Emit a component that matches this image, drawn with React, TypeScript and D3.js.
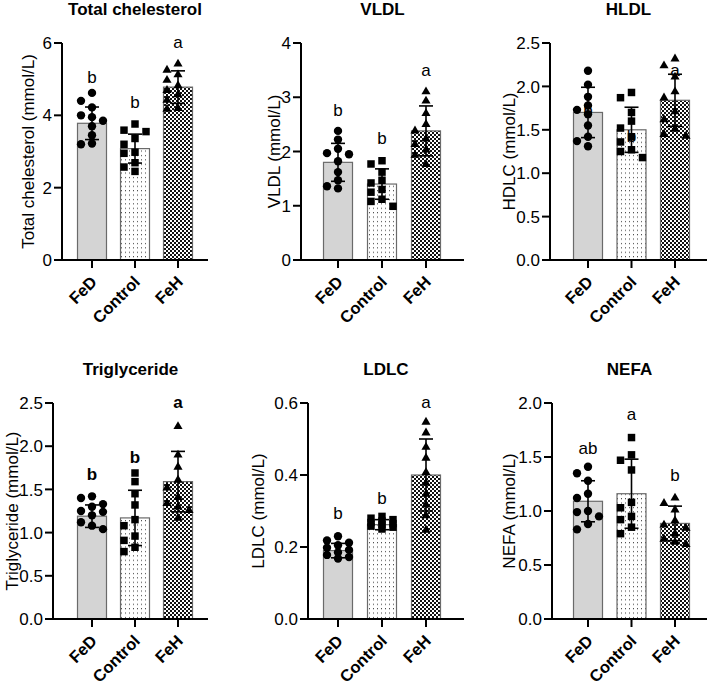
import React from "react";
import * as d3 from "d3";

const groups = ["FeD", "Control", "FeH"];

// points, one list per group
const tcPoints = [
  [4.62, 4.4, 4.22, 4.0, 3.95, 3.85, 3.7, 3.45, 3.22, 3.2],
  [3.76, 3.59, 3.55, 3.36, 3.2, 2.98, 2.95, 2.69, 2.57, 2.45],
  [5.45, 5.28, 5.15, 5.0, 4.85, 4.72, 4.6, 4.45, 4.22, 4.2],
];
const tcMean = [3.78, 3.08, 4.78];
const tcSD = [0.45, 0.4, 0.45];
const tcLetters = ["b", "b", "a"];
const tcLetterAt = [5.07, 4.38, 6.02];

const vldlPoints = [
  [2.38, 2.22, 2.05, 1.97, 1.95, 1.82, 1.62, 1.47, 1.36, 1.32],
  [1.83, 1.77, 1.62, 1.47, 1.42, 1.3, 1.25, 1.12, 1.08, 0.99],
  [3.12, 2.95, 2.72, 2.52, 2.4, 2.25, 2.15, 2.05, 1.95, 1.78],
];
const vldlMean = [1.8, 1.4, 2.38];
const vldlSD = [0.35, 0.28, 0.46];
const vldlLetters = ["b", "b", "a"];
const vldlLetterAt = [2.77, 2.25, 3.51];

const hdlPoints = [
  [2.18, 2.02, 1.88, 1.78, 1.73, 1.68, 1.55, 1.42, 1.37, 1.31],
  [1.93, 1.87, 1.7, 1.6, 1.52, 1.42, 1.36, 1.27, 1.25, 1.18],
  [2.33, 2.25, 2.12, 1.95, 1.88, 1.72, 1.63, 1.52, 1.46, 1.44],
];
const hdlMean = [1.7, 1.5, 1.84];
const hdlSD = [0.29, 0.26, 0.3];
const hdlLetters = ["b", "b", "a"];
const hdlLetterAt = [1.73, 1.43, 2.19];

const tgPoints = [
  [1.42, 1.4, 1.33, 1.3, 1.25, 1.24, 1.2, 1.12, 1.08, 1.04],
  [1.69, 1.59, 1.45, 1.32, 1.15, 1.08, 0.96, 0.91, 0.83, 0.78],
  [2.24, 1.91, 1.77, 1.62, 1.53, 1.42, 1.35, 1.31, 1.27, 1.18],
];
const tgMean = [1.19, 1.17, 1.59];
const tgSD = [0.13, 0.32, 0.35];
const tgLetters = ["b", "b", "a"];
const tgLetterAt = [1.68, 1.87, 2.51];

const ldlPoints = [
  [0.23, 0.218, 0.212, 0.205, 0.198, 0.192, 0.185, 0.178, 0.172, 0.168],
  [0.285, 0.28, 0.276, 0.272, 0.268, 0.265, 0.262, 0.258, 0.255, 0.25],
  [0.55, 0.52, 0.48, 0.45, 0.41, 0.38, 0.35, 0.32, 0.29, 0.25],
];
const ldlMean = [0.19, 0.262, 0.4];
const ldlSD = [0.02, 0.014, 0.1];
const ldlLetters = ["b", "b", "a"];
const ldlLetterAt = [0.294, 0.335, 0.603];

const nefaPoints = [
  [1.41, 1.35, 1.28, 1.16, 1.12, 1.0, 0.99, 0.95, 0.88, 0.83],
  [1.68, 1.52, 1.47, 1.38, 1.08, 1.03, 0.95, 0.92, 0.85, 0.79],
  [1.13, 1.08, 1.02, 0.92, 0.88, 0.85, 0.8, 0.75, 0.72, 0.7],
];
const nefaMean = [1.09, 1.16, 0.885];
const nefaSD = [0.19, 0.32, 0.16];
const nefaLetters = ["ab", "a", "b"];
const nefaLetterAt = [1.58, 1.9, 1.33];

const FONT = "'Liberation Sans', Arial, sans-serif";

type Panel = {
  title: string;
  yLabel: string;
  max: number;
  ticks: number[];
  fmt: string;
  points: number[][];
  mean: number[];
  sd: number[];
  letters: string[];
  letterAt: number[];
  boldLetters?: boolean;
  // layout
  axisX: number;
  axisEnd: number;
  c0: number;
  c2: number;
  top: number;
  bottom: number;
  labelX: number;
  titleY: number;
};

const panels: Panel[] = [
  { title: "Total chelesterol", yLabel: "Total chelesterol (mmol/L)", max: 6, ticks: [0, 2, 4, 6], fmt: "d",
    points: tcPoints, mean: tcMean, sd: tcSD, letters: tcLetters, letterAt: tcLetterAt,
    axisX: 62, axisEnd: 208, c0: 92, c2: 178, top: 43, bottom: 260, labelX: 28, titleY: 15 },
  { title: "VLDL", yLabel: "VLDL (mmol/L)", max: 4, ticks: [0, 1, 2, 3, 4], fmt: "d",
    points: vldlPoints, mean: vldlMean, sd: vldlSD, letters: vldlLetters, letterAt: vldlLetterAt,
    axisX: 301, axisEnd: 464, c0: 338, c2: 426, top: 43, bottom: 260, labelX: 274, titleY: 15 },
  { title: "HLDL", yLabel: "HDLC (mmol/L)", max: 2.5, ticks: [0, 0.5, 1, 1.5, 2, 2.5], fmt: ".1f",
    points: hdlPoints, mean: hdlMean, sd: hdlSD, letters: hdlLetters, letterAt: hdlLetterAt,
    axisX: 550, axisEnd: 707, c0: 588, c2: 675, top: 43, bottom: 260, labelX: 509, titleY: 15 },
  { title: "Triglyceride", yLabel: "Triglyceride (mmol/L)", max: 2.5, ticks: [0, 0.5, 1, 1.5, 2, 2.5], fmt: ".1f",
    points: tgPoints, mean: tgMean, sd: tgSD, letters: tgLetters, letterAt: tgLetterAt, boldLetters: true,
    axisX: 53, axisEnd: 208, c0: 92, c2: 178, top: 403, bottom: 619, labelX: 12, titleY: 375 },
  { title: "LDLC", yLabel: "LDLC (mmol/L)", max: 0.6, ticks: [0, 0.2, 0.4, 0.6], fmt: ".1f",
    points: ldlPoints, mean: ldlMean, sd: ldlSD, letters: ldlLetters, letterAt: ldlLetterAt,
    axisX: 308, axisEnd: 464, c0: 338, c2: 426, top: 403, bottom: 619, labelX: 258, titleY: 375 },
  { title: "NEFA", yLabel: "NEFA (mmol/L)", max: 2, ticks: [0, 0.5, 1, 1.5, 2], fmt: ".1f",
    points: nefaPoints, mean: nefaMean, sd: nefaSD, letters: nefaLetters, letterAt: nefaLetterAt,
    axisX: 552, axisEnd: 707, c0: 588, c2: 675, top: 403, bottom: 619, labelX: 509, titleY: 375 },
];

const fills = ["#d4d4d4", "url(#dots)", "url(#checks)"];
const symbols = [d3.symbolCircle, d3.symbolSquare, d3.symbolTriangle];
const symbolSizes = [55, 56, 36];

// GraphPad-like horizontal spread, limited to three columns
function swarm(vals: number[], y: (v: number) => number, step = 11, size = 8) {
  const placed: { x: number; y: number }[] = [];
  const out: number[] = new Array(vals.length).fill(0);
  const order = vals.map((v, i) => ({ v, i })).sort((a, b) => b.v - a.v);
  for (const { v, i } of order) {
    const py = y(v);
    let best = 0;
    let bestGap = -1;
    for (const k of [0, -1, 1]) {
      const ox = k * step;
      const gap = d3.min(placed.filter((p) => p.x === ox), (p) => Math.abs(p.y - py)) ?? Infinity;
      if (gap >= size) { best = ox; bestGap = gap; break; }
      if (gap > bestGap) { bestGap = gap; best = ox; }
    }
    placed.push({ x: best, y: py });
    out[i] = best;
  }
  return out;
}

function ChartPanel({ p }: { p: Panel }) {
  const y = d3.scaleLinear().domain([0, p.max]).range([p.bottom, p.top]);
  const x = d3.scalePoint<string>().domain(groups).range([p.c0, p.c2]);
  const fmt = d3.format(p.fmt);
  const barW = 29;
  const cap = 7;
  const midY = (p.top + p.bottom) / 2;

  return (
    <g>
      <text x={(p.axisX + p.axisEnd) / 2} y={p.titleY} textAnchor="middle" fontWeight="bold" fontSize={17}>
        {p.title}
      </text>
      <text transform={`translate(${p.labelX},${midY}) rotate(-90)`} textAnchor="middle" dominantBaseline="central" fontSize={17}>
        {p.yLabel}
      </text>

      {groups.map((g, i) => (
        <rect key={g} x={x(g)! - barW / 2} y={y(p.mean[i])} width={barW} height={p.bottom - y(p.mean[i])}
          fill={fills[i]} stroke="#6a6a6a" strokeWidth={1.2} />
      ))}

      {groups.map((g, i) => {
        const cx = x(g)!;
        const hi = y(p.mean[i] + p.sd[i]);
        const lo = y(p.mean[i] - p.sd[i]);
        return (
          <g key={g} stroke="#000" strokeWidth={1.6}>
            <line x1={cx} x2={cx} y1={hi} y2={lo} />
            <line x1={cx - cap} x2={cx + cap} y1={hi} y2={hi} />
            <line x1={cx - cap} x2={cx + cap} y1={lo} y2={lo} />
          </g>
        );
      })}

      {groups.map((g, i) => {
        const offs = swarm(p.points[i], y);
        const path = d3.symbol().type(symbols[i]).size(symbolSizes[i])()!;
        return p.points[i].map((v, j) => (
          <path key={g + j} d={path} transform={`translate(${x(g)! + offs[j]},${y(v) + (i === 2 ? 1 : 0)})`} fill="#000" />
        ));
      })}

      {groups.map((g, i) => (
        <text key={g} x={x(g)!} y={y(p.letterAt[i])} dy="0.35em" textAnchor="middle" fontSize={17}
          fontWeight={p.boldLetters ? "bold" : "normal"}>
          {p.letters[i]}
        </text>
      ))}

      {/* axes */}
      <line x1={p.axisX} x2={p.axisX} y1={p.top} y2={p.bottom + 1} stroke="#000" strokeWidth={2} />
      <line x1={p.axisX - 8} x2={p.axisEnd} y1={p.bottom} y2={p.bottom} stroke="#000" strokeWidth={2} />
      {p.ticks.map((t) => (
        <g key={t}>
          <line x1={p.axisX - 8} x2={p.axisX} y1={y(t)} y2={y(t)} stroke="#000" strokeWidth={2} />
          <text x={p.axisX - 10} y={y(t)} dy="0.36em" textAnchor="end" fontSize={17}>
            {fmt(t)}
          </text>
        </g>
      ))}
      {groups.map((g) => (
        <g key={g}>
          <line x1={x(g)!} x2={x(g)!} y1={p.bottom} y2={p.bottom + 8} stroke="#000" strokeWidth={2} />
          <text transform={`translate(${x(g)! + 6},${p.bottom + 23}) rotate(-45)`} textAnchor="end" fontWeight="bold" fontSize={16.5}>
            {g}
          </text>
        </g>
      ))}
    </g>
  );
}

export default function App() {
  return (
    <svg width={708} height={691} style={{ position: "absolute", left: 0, top: 0, background: "#fff" }} fontFamily={FONT}>
      <defs>
        <pattern id="dots" width={4} height={4.4} patternUnits="userSpaceOnUse">
          <rect width={4} height={4.4} fill="#fff" />
          <rect x={1} y={1} width={1} height={1} fill="#333" />
        </pattern>
        <pattern id="checks" width={4} height={4} patternUnits="userSpaceOnUse">
          <rect width={4} height={4} fill="#fff" />
          <rect x={0} y={0} width={2} height={2} fill="#111" />
          <rect x={2} y={2} width={2} height={2} fill="#111" />
        </pattern>
      </defs>
      <rect width={708} height={691} fill="#fff" />
      {panels.map((p) => (
        <ChartPanel key={p.title} p={p} />
      ))}
    </svg>
  );
}
